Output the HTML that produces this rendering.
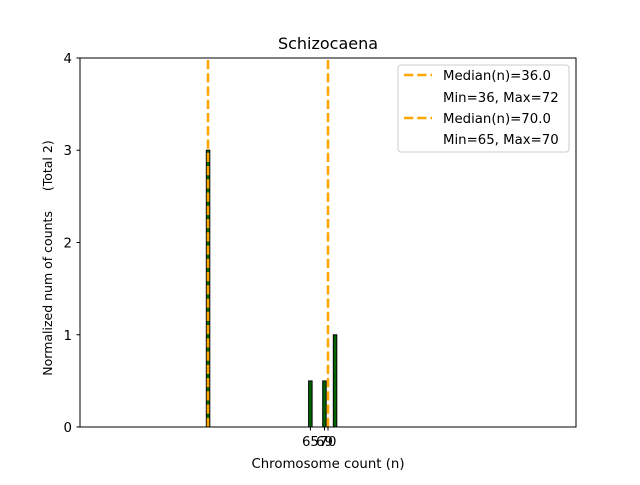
<!DOCTYPE html>
<html><head><style>body{margin:0;background:#fff}</style></head><body>
<svg width="640" height="480" xmlns="http://www.w3.org/2000/svg" font-family="DejaVu Sans, Liberation Sans, sans-serif">
<rect width="640" height="480" fill="#fff"/>
<g fill="#006400" stroke="#000" stroke-width="1">
<rect x="206.3" y="150.2" width="3.5" height="276.8"/>
<rect x="308.6" y="380.9" width="3.5" height="46.1"/>
<rect x="322.7" y="380.9" width="3.5" height="46.1"/>
<rect x="333.3" y="334.8" width="3.5" height="92.2"/>
</g>
<g stroke="#FFA500" stroke-width="2.5" stroke-dasharray="9.25,4">
<line x1="208" y1="427" x2="208" y2="58"/>
<line x1="328" y1="427" x2="328" y2="58"/>
</g>
<rect x="80" y="58" width="496" height="369" fill="none" stroke="#000" stroke-width="1"/>
<g stroke="#000">
<line x1="80" y1="427" x2="76.5" y2="427"/>
<line x1="80" y1="334.75" x2="76.5" y2="334.75"/>
<line x1="80" y1="242.5" x2="76.5" y2="242.5"/>
<line x1="80" y1="150.25" x2="76.5" y2="150.25"/>
<line x1="80" y1="58" x2="76.5" y2="58"/>
<line x1="310.4" y1="427" x2="310.4" y2="430.5"/>
<line x1="324.5" y1="427" x2="324.5" y2="430.5"/>
<line x1="328" y1="427" x2="328" y2="430.5"/>
</g>
<g font-size="13.3" text-anchor="end">
<text x="72" y="432">0</text>
<text x="72" y="340">1</text>
<text x="72" y="247.5">2</text>
<text x="72" y="155">3</text>
<text x="72" y="63">4</text>
</g>
<g font-size="13.3" text-anchor="middle">
<text x="310.4" y="446">65</text>
<text x="324.5" y="446">69</text>
<text x="328" y="446">70</text>
<text x="328" y="468">Chromosome count (n)</text>
<text x="328" y="49" font-size="16">Schizocaena</text>
</g>
<text transform="translate(52,258) rotate(-90)" font-size="12.5" text-anchor="middle" xml:space="preserve" style="white-space:pre">Normalized num of counts     (Total 2)</text>
<rect x="398" y="65" width="171" height="87" rx="3" fill="#fff" fill-opacity="0.8" stroke="#ccc"/>
<g stroke="#FFA500" stroke-width="2.5" stroke-dasharray="9.25,4">
<line x1="404" y1="75" x2="432" y2="75"/>
<line x1="404" y1="118" x2="432" y2="118"/>
</g>
<g font-size="13.3">
<text x="443" y="80">Median(n)=36.0</text>
<text x="443" y="102">Min=36, Max=72</text>
<text x="443" y="123">Median(n)=70.0</text>
<text x="443" y="144">Min=65, Max=70</text>
</g>
</svg>
</body></html>
